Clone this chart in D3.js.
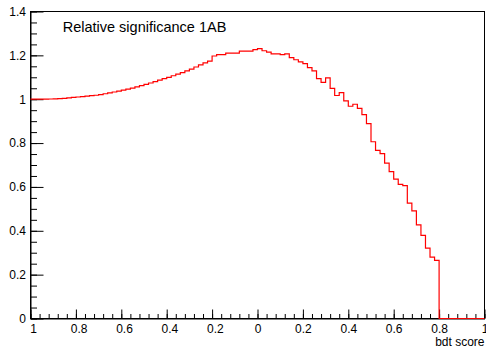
<!DOCTYPE html>
<html>
<head>
<meta charset="utf-8">
<script src="https://cdn.jsdelivr.net/npm/d3@7"></script>
<style>
  html, body { margin: 0; padding: 0; background: #fff; }
  svg { display: block; font-family: "Liberation Sans", Arial, Helvetica, sans-serif; }
</style>
</head>
<body>
<svg id="chart" width="486" height="351"></svg>
<script>
// ---- Data ----
const title = "Relative significance 1AB";
const xTitle = "bdt score";
const xMin = -1, xMax = 1, nBins = 100;
const binValues = [
  1.000, 1.000, 1.000, 1.000, 1.001, 1.002, 1.003, 1.004, 1.006, 1.008,
  1.010, 1.012, 1.014, 1.016, 1.018, 1.021, 1.025, 1.029, 1.033, 1.037,
  1.041, 1.046, 1.051, 1.056, 1.062, 1.068, 1.074, 1.080, 1.087, 1.094,
  1.100, 1.107, 1.114, 1.121, 1.129, 1.137, 1.147, 1.157, 1.166, 1.174,
  1.197, 1.203, 1.203, 1.210, 1.210, 1.210, 1.219, 1.219, 1.219, 1.226,
  1.231, 1.221, 1.215, 1.207, 1.207, 1.203, 1.207, 1.190, 1.180, 1.170,
  1.162, 1.144, 1.129, 1.094, 1.077, 1.097, 1.049, 1.017, 1.030, 0.992,
  0.968, 0.977, 0.958, 0.930, 0.889, 0.806, 0.767, 0.752, 0.709, 0.670,
  0.636, 0.612, 0.606, 0.526, 0.491, 0.427, 0.379, 0.321, 0.280, 0.265,
  0, 0, 0, 0, 0, 0, 0, 0, 0, 0
];
const xTickValues = [-1, -0.8, -0.6, -0.4, -0.2, 0, 0.2, 0.4, 0.6, 0.8, 1];
const xTickLabels = ["1", "0.8", "0.6", "0.4", "0.2", "0", "0.2", "0.4", "0.6", "0.8", "1"];
const yTickValues = [0, 0.2, 0.4, 0.6, 0.8, 1, 1.2, 1.4];
const yTickLabels = ["0", "0.2", "0.4", "0.6", "0.8", "1", "1.2", "1.4"];
const yMin = 0, yMax = 1.4;

// ---- Layout ----
const svg = d3.select("#chart");
const x = d3.scaleLinear().domain([xMin, xMax]).range([30.5, 484.5]);
const y = d3.scaleLinear().domain([yMin, yMax]).range([318.5, 11.5]);

// frame
svg.append("rect")
  .attr("x", x(xMin)).attr("y", y(yMax))
  .attr("width", x(xMax) - x(xMin)).attr("height", y(yMin) - y(yMax))
  .attr("fill", "none").attr("stroke", "#000").attr("stroke-width", 1);

// x minor ticks
const xMinor = d3.range(0, 51).map(i => xMin + i * 0.04);
svg.append("g").attr("transform", `translate(0,${y(yMin)})`)
  .call(d3.axisBottom(x).tickValues(xMinor).tickSizeInner(-4.5).tickSizeOuter(0).tickFormat(""))
  .call(g => g.select(".domain").remove());
// x major ticks + labels
const gx = svg.append("g").attr("transform", `translate(0,${y(yMin)})`)
  .call(d3.axisBottom(x).tickValues(xTickValues).tickSizeInner(-9).tickSizeOuter(0).tickPadding(5.7)
    .tickFormat((d, i) => xTickLabels[i]));
gx.select(".domain").attr("stroke", "#000");
gx.selectAll("text").attr("font-size", 12).attr("fill", "#000")
  .attr("font-family", "Liberation Sans, Arial, sans-serif")
  .attr("dx", d => d < 0 ? 2.7 : 0);

// y minor ticks
const yMinor = d3.range(0, 29).map(i => yMin + i * 0.05);
svg.append("g").attr("transform", `translate(${x(xMin)},0)`)
  .call(d3.axisLeft(y).tickValues(yMinor).tickSizeInner(-6.5).tickSizeOuter(0).tickFormat(""))
  .call(g => g.select(".domain").remove());
const gy = svg.append("g").attr("transform", `translate(${x(xMin)},0)`)
  .call(d3.axisLeft(y).tickValues(yTickValues).tickSizeInner(-13).tickSizeOuter(0).tickPadding(4.5)
    .tickFormat((d, i) => yTickLabels[i]));
gy.select(".domain").attr("stroke", "#000");
gy.selectAll("text").attr("font-size", 12).attr("fill", "#000")
  .attr("font-family", "Liberation Sans, Arial, sans-serif");

// histogram
const bw = (xMax - xMin) / nBins;
const pts = binValues.map((v, i) => [xMin + i * bw, v]);
pts.push([xMax, binValues[nBins - 1]]);
const line = d3.line().x(d => x(d[0])).y(d => y(d[1])).curve(d3.curveStepAfter);
svg.append("path").attr("d", line(pts))
  .attr("fill", "none").attr("stroke", "#ff0000").attr("stroke-width", 1.2);

// title
svg.append("text").attr("x", 62.7).attr("y", 31.7)
  .attr("font-size", 14.5).attr("fill", "#000").text(title);

// x axis title
svg.append("text").attr("x", 484.5).attr("y", 346)
  .attr("text-anchor", "end").attr("font-size", 12).attr("fill", "#000").text(xTitle);
</script>
</body>
</html>
